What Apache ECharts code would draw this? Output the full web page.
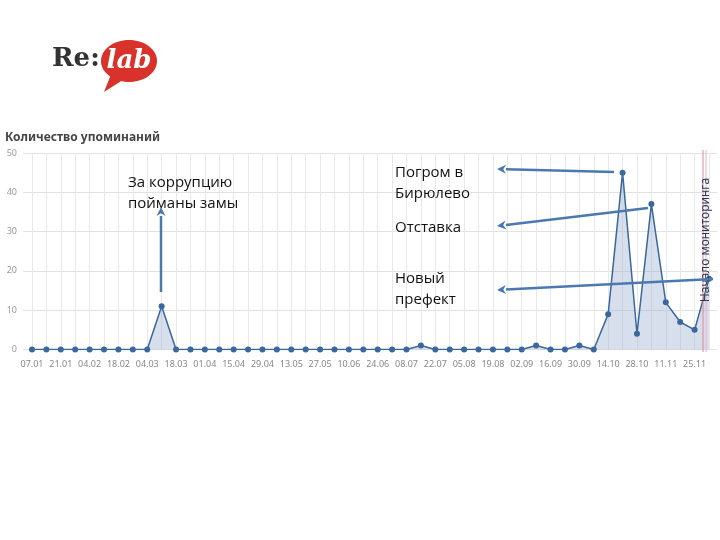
<!DOCTYPE html>
<html><head><meta charset="utf-8">
<script src="https://cdn.jsdelivr.net/npm/echarts@6/dist/echarts.min.js"></script>
<style>html,body{margin:0;padding:0;background:#fff}#c{width:720px;height:540px}</style>
</head><body><div id="c"></div>
<script>
const categories = ['07.01','14.01','21.01','28.01','04.02','11.02','18.02','25.02','04.03','11.03','18.03','25.03',
  '01.04','08.04','15.04','22.04','29.04','06.05','13.05','20.05','27.05','03.06','10.06','17.06',
  '24.06','01.07','08.07','15.07','22.07','29.07','05.08','12.08','19.08','26.08','02.09','09.09',
  '16.09','23.09','30.09','07.10','14.10','21.10','28.10','04.11','11.11','18.11','25.11','02.12'];
const mentions = [0,0,0,0,0,0,0,0,0,11,0,0,
  0,0,0,0,0,0,0,0,0,0,0,0,
  0,0,0,1,0,0,0,0,0,0,0,1,
  0,0,1,0,9,45,4,37,12,7,5,18];
const yMin = 0, yMax = 50, yStep = 10;
const titleText = 'Количество упоминаний';
const notes = [
  {lines:['За коррупцию','пойманы замы'], x:128, y:172},
  {lines:['Погром в','Бирюлево'], x:395, y:162},
  {lines:['Отставка'], x:395, y:217},
  {lines:['Новый','префект'], x:395, y:268}
];
const monitorText = 'Начало мониторинга';

const chart = echarts.init(document.getElementById('c'), null, {renderer:'canvas'});
const ARROW = '#4a78b0';
function arrow(x1,y1,x2,y2){
  const a = Math.atan2(y2-y1, x2-x1), L = 9, W = 4.5;
  const bx = x2 - L*Math.cos(a), by = y2 - L*Math.sin(a);
  const px = -Math.sin(a)*W, py = Math.cos(a)*W;
  return [
    {type:'line', shape:{x1:x1,y1:y1,x2:bx,y2:by}, style:{stroke:ARROW,lineWidth:2.5}, z:100},
    {type:'polygon', shape:{points:[[x2,y2],[bx+px,by+py],[bx+L*0.3*Math.cos(a),by+L*0.3*Math.sin(a)],[bx-px,by-py]]}, style:{fill:ARROW}, z:100}
  ];
}
const graphics = [];
// logo
graphics.push({type:'text', left:52, top:46, style:{text:'Re:', font:'bold 26px "DejaVu Serif"', fill:'#333'}, z:10});
graphics.push({type:'polygon', shape:{points:[[112,72],[104,92],[126,78]]}, style:{fill:'#d8322a'}, z:10});
graphics.push({type:'ellipse', shape:{cx:129,cy:61,rx:28,ry:21}, style:{fill:'#d8322a'}, z:10});
graphics.push({type:'text', x:129, y:61, style:{text:'lab', font:'italic bold 26px "DejaVu Serif"', fill:'#fff', textAlign:'center', textVerticalAlign:'middle'}, z:11});
// notes
notes.forEach(n => {
  graphics.push({type:'text', left:n.x, top:n.y, style:{text:n.lines.join('\n'), font:'15px "Open Sans"', lineHeight:21, fill:'#111'}, z:50});
});
graphics.push(...arrow(161,292,161,207));
graphics.push(...arrow(614,172,497,169));
graphics.push(...arrow(648,208,497,226));
graphics.push(...arrow(713,279,497,290));
// monitoring start
graphics.push({type:'line', shape:{x1:703,y1:150,x2:703,y2:352}, style:{stroke:'#d9899a',lineWidth:1}, z:20});
graphics.push({type:'line', shape:{x1:706,y1:150,x2:706,y2:352}, style:{stroke:'#e8b4c0',lineWidth:1}, z:20});
graphics.push({type:'text', x:706, y:240, rotation:Math.PI/2, style:{text:monitorText, font:'12px "Noto Sans"', fill:'#2b3a55', textAlign:'center', textVerticalAlign:'middle'}, z:30});

const option = {
  backgroundColor:'#fff',
  animation:false,
  title:{text:titleText, left:0, top:127, textStyle:{fontFamily:'Noto Sans', fontWeight:'bold', fontSize:12, color:'#444'}},
  grid:[{left:23,right:3,top:153,bottom:190.5},{left:32,right:11,top:153,bottom:190.5}],
  xAxis:[
    {gridIndex:0,type:'value',show:false,min:0,max:1},
    {gridIndex:1,type:'category',data:categories,boundaryGap:false,
     axisLine:{show:false},axisTick:{show:false},
     axisLabel:{interval:1,color:'#888',fontSize:9,margin:10,fontFamily:'Noto Sans'},
     splitLine:{show:true,interval:0,lineStyle:{color:'#e8e8e8'}}}
  ],
  yAxis:[
    {gridIndex:0,type:'value',min:yMin,max:yMax,interval:yStep,
     axisLabel:{color:'#999',fontSize:9,margin:6,fontFamily:'Noto Sans'},
     splitLine:{lineStyle:{color:'#e2e2e2'}},axisLine:{show:false},axisTick:{show:false}},
    {gridIndex:1,type:'value',min:yMin,max:yMax,interval:yStep,show:false}
  ],
  series:[{type:'line',xAxisIndex:1,yAxisIndex:1,data:mentions,symbol:'circle',symbolSize:6,
    itemStyle:{color:'#3a679c'},lineStyle:{color:'#3a679c',width:1.5},
    areaStyle:{color:'rgba(150,172,205,0.55)'}}],
  graphic:graphics
};
chart.setOption(option);
</script></body></html>
